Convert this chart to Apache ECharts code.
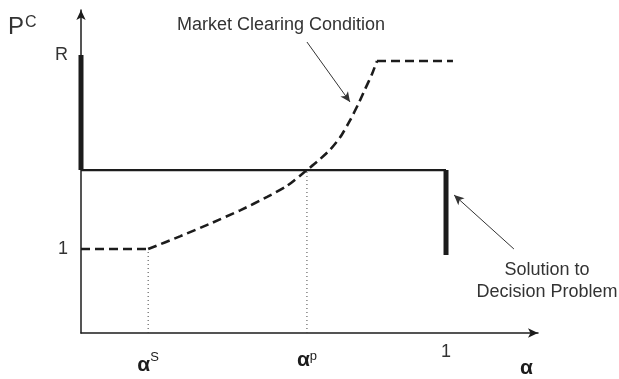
<!DOCTYPE html>
<html>
<head>
<meta charset="utf-8">
<script src="https://cdn.jsdelivr.net/npm/echarts@6/dist/echarts.min.js"></script>
<style>
  html, body { margin: 0; padding: 0; background: #fff; }
  #chart { width: 619px; height: 379px; }
</style>
</head>
<body>
<div id="chart"></div>
<script>
// market clearing condition (dashed): flat at 1, rising curve, flat at top
const lowFlatX = [0, 0.184];
const lowFlatY = [1, 1];
const riseX = [0.184, 0.271, 0.353, 0.436, 0.510, 0.564, 0.619, 0.647, 0.682, 0.710, 0.737, 0.759, 0.778, 0.797, 0.811];
const riseY = [1.0, 1.15, 1.30, 1.46, 1.62, 1.75, 1.94, 2.04, 2.18, 2.33, 2.53, 2.72, 2.90, 3.08, 3.238];
const highFlatX = [0.811, 1.019];
const highFlatY = [3.238, 3.238];

// solution to decision problem
const solLeftX = [0, 0];
const solLeftY = [3.31, 1.94];
const solFlatX = [0, 1];
const solFlatY = [1.94, 1.94];
const solRightX = [1, 1];
const solRightY = [1.94, 0.93];

// dotted guides at alpha^S and alpha^p
const alphaS = 0.184;
const alphaP = 0.619;
const guideTopS = 1;
const guideTopP = 1.94;

// tick labels
const xTickValues = [alphaS, alphaP, 1];
const xTickLabels = ['{a|α}{s|S}', '{b|α}{p|p}', '{n|1}'];
const yTickValues = [1, 3.31];
const yTickLabels = ['1', 'R'];

// annotation arrows [from, to]
const marketArrow = [[0.619, 3.464], [0.737, 2.75]];
const solutionArrow = [[1.186, 1.0], [1.022, 1.643]];

const font = 'Liberation Sans, Arial, sans-serif';
const ink = '#1c1c1c';

function zip(xs, ys) { return xs.map((x, i) => [x, ys[i]]); }
function pick(values, labels, v) {
  const i = values.findIndex(t => Math.abs(t - v) < 1e-6);
  return i < 0 ? '' : labels[i];
}
function dashed(xs, ys, smooth) {
  return {
    type: 'line', data: zip(xs, ys), symbol: 'none', silent: true,
    smooth: smooth,
    lineStyle: { color: ink, width: 2.6, type: [9, 5] }
  };
}
function solid(xs, ys, w) {
  return {
    type: 'line', data: zip(xs, ys), symbol: 'none', silent: true,
    lineStyle: { color: ink, width: w }
  };
}

const chart = echarts.init(document.getElementById('chart'));
chart.setOption({
  animation: false,
  grid: { left: 81, right: 81, top: 10, bottom: 46 },
  xAxis: {
    type: 'value', min: 0, max: 1.252,
    splitLine: { show: false },
    axisTick: { show: false },
    axisLine: { lineStyle: { color: ink, width: 1.5 }, symbol: ['none', 'arrow'], symbolSize: [7, 10] },
    axisLabel: {
      customValues: xTickValues,
      margin: 10,
      formatter: v => pick(xTickValues, xTickLabels, v),
      rich: {
        a: { fontFamily: font, fontSize: 21, fontWeight: 'bold', color: ink, padding: [12, 0, 0, 0] },
        s: { fontFamily: font, fontSize: 13, color: ink, padding: [0, 0, 4, 0] },
        b: { fontFamily: font, fontSize: 21, fontWeight: 'bold', color: ink, padding: [7, 0, 0, 0] },
        p: { fontFamily: font, fontSize: 13, color: ink, padding: [0, 0, 2, 0] },
        n: { fontFamily: font, fontSize: 18, color: '#333' }
      }
    }
  },
  yAxis: {
    type: 'value', min: 0, max: 3.845,
    splitLine: { show: false },
    axisTick: { show: false },
    axisLine: { lineStyle: { color: ink, width: 1.5 }, symbol: ['none', 'arrow'], symbolSize: [7, 10] },
    axisLabel: {
      customValues: yTickValues,
      margin: 13,
      fontFamily: font, fontSize: 18, color: '#333',
      formatter: v => pick(yTickValues, yTickLabels, v)
    }
  },
  graphic: [
    { type: 'text', x: 8, y: 15, style: { text: '{p|P}{c|C}', rich: {
      p: { fontFamily: font, fontSize: 24, fill: '#333' },
      c: { fontFamily: font, fontSize: 16, fill: '#333', padding: [0, 0, 8, 1] } } } },
    { type: 'text', x: 520, y: 358, style: { text: 'α', fontFamily: font, fontSize: 21, fontWeight: 'bold', fill: ink } },
    { type: 'text', x: 177, y: 16, style: { text: 'Market Clearing Condition', fontFamily: font, fontSize: 18, fill: '#333' } },
    { type: 'text', x: 547, y: 259, style: { text: 'Solution to\nDecision Problem', fontFamily: font, fontSize: 18, lineHeight: 22, align: 'center', fill: '#333' } }
  ],
  series: [
    dashed(lowFlatX, lowFlatY, false),
    dashed(riseX, riseY, 0.2),
    dashed(highFlatX, highFlatY, false),
    solid(solLeftX, solLeftY, 5),
    solid(solFlatX, solFlatY, 2.2),
    solid(solRightX, solRightY, 5),
    {
      type: 'line', data: [[alphaS, 0], [alphaS, guideTopS]], symbol: 'none', silent: true,
      lineStyle: { color: '#444', width: 1, type: [1, 3] }
    },
    {
      type: 'line', data: [[alphaP, 0], [alphaP, guideTopP]], symbol: 'none', silent: true,
      lineStyle: { color: '#444', width: 1, type: [1, 3] },
      markLine: {
        silent: true, symbol: ['none', 'arrow'], symbolSize: [7, 10],
        label: { show: false },
        lineStyle: { color: '#333', width: 1, type: 'solid' },
        data: [
          [{ coord: marketArrow[0] }, { coord: marketArrow[1] }],
          [{ coord: solutionArrow[0] }, { coord: solutionArrow[1] }]
        ]
      }
    }
  ]
});
</script>
</body>
</html>
